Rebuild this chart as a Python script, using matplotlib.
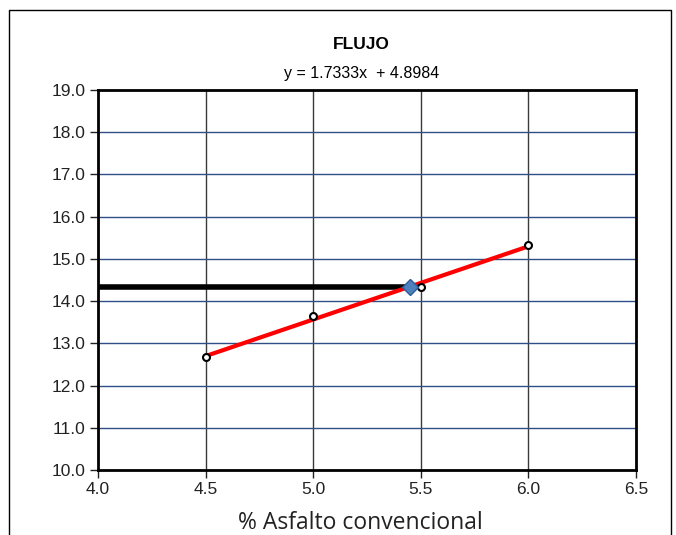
import matplotlib.pyplot as plt
from matplotlib.lines import Line2D

# datos del ensayo
asfalto = [4.5, 5.0, 5.5, 6.0]
flujo = [12.67, 13.65, 14.33, 15.33]

pendiente = 1.7333
intercepto = 4.8984
optimo = 5.45
flujo_opt = pendiente * optimo + intercepto

x_ticks = [4.0, 4.5, 5.0, 5.5, 6.0, 6.5]
y_ticks = [10, 11, 12, 13, 14, 15, 16, 17, 18, 19]

fig = plt.figure(figsize=(6.76, 5.35), dpi=100)
ax = fig.add_axes([0.145, 0.1215, 0.796, 0.7103])

# borde exterior estilo excel
fig.add_artist(Line2D([0.0133, 0.0133, 0.992, 0.992], [0.0, 0.981, 0.981, 0.0],
                      transform=fig.transFigure, color="black", lw=1))

for xv in x_ticks[1:-1]:
    ax.axvline(xv, color="#3a3a3a", lw=1, zorder=1)
for yv in y_ticks[1:-1]:
    ax.axhline(yv, color="#2f4f86", lw=1, zorder=1)

# linea de tendencia
xt = [asfalto[0], asfalto[-1]]
yt = [pendiente * v + intercepto for v in xt]
ax.plot(xt, yt, color="red", lw=3, zorder=3)

ax.plot([4.0, optimo], [flujo_opt, flujo_opt], color="black", lw=4, zorder=2)
ax.plot(asfalto, flujo, "o", mfc="white", mec="black", mew=1.5, ms=5, zorder=4)
ax.plot([optimo], [flujo_opt], "D", mfc="#4f81bd", mec="#2c5d9a", ms=8, zorder=5)

ax.set_xlim(4.0, 6.5)
ax.set_ylim(10, 19)
ax.set_xticks(x_ticks)
ax.set_yticks(y_ticks)
ax.set_xticklabels([f"{v:.1f}" for v in x_ticks], family="Liberation Sans", fontsize=12.5)
ax.set_yticklabels([f"{v:.1f}" for v in y_ticks], family="Liberation Sans", fontsize=12.5)
ax.tick_params(direction="out", length=6, width=1, pad=3, colors="#222222")
for s in ax.spines.values():
    s.set_linewidth(2)

ax.set_xlabel("% Asfalto convencional", family="Open Sans", fontsize=16.5, color="#222222")
ax.xaxis.set_label_coords(0.487, -0.108)
fig.text(0.535, 0.916, "FLUJO", ha="center", va="center", family="Liberation Sans",
         fontweight="bold", fontsize=12.5)
fig.text(0.535, 0.863, "y = 1.7333x  + 4.8984", ha="center", va="center",
         family="Liberation Sans", fontsize=11.5)

fig.savefig("out.png", dpi=100)
